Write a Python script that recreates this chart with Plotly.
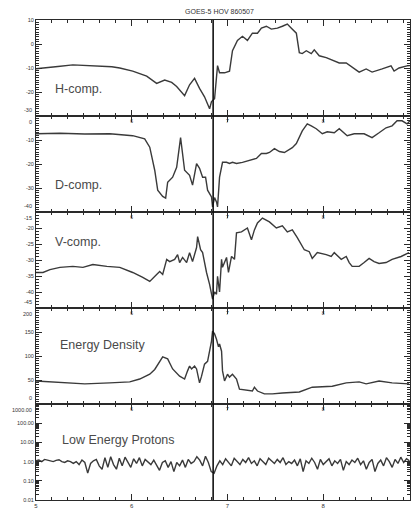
import plotly.graph_objects as go

TITLE = "GOES-5 HOV 860507"
PANEL_LABELS = ["H-comp.", "D-comp.", "V-comp.", "Energy Density", "Low Energy Protons"]
X_RANGE = [5.0, 8.906]
EVENT_T = 6.85

# H-component (nT)
h_t = [5.000, 5.094, 5.229, 5.385, 5.510, 5.667, 5.792, 5.875, 6.010, 6.156, 6.260, 6.344, 6.417, 6.469,
       6.552, 6.604, 6.656, 6.708, 6.760, 6.792, 6.813, 6.833, 6.865, 6.896, 6.917, 6.969, 7.021, 7.052,
       7.104, 7.156, 7.208, 7.260, 7.313, 7.354, 7.406, 7.458, 7.521, 7.573, 7.625, 7.667, 7.719, 7.750,
       7.781, 7.823, 7.875, 7.906, 7.958, 8.031, 8.094, 8.167, 8.240, 8.302, 8.375, 8.448, 8.510, 8.615,
       8.708, 8.740, 8.792, 8.875, 8.906]
h_v = [-10.3, -10.0, -9.4, -8.7, -8.9, -9.0, -9.5, -10.0, -11.3, -13.4, -16.4, -15.0, -16.0, -17.7,
       -21.5, -17.0, -14.3, -18.5, -22.0, -25.0, -27.0, -24.0, -22.8, -9.0, -12.0, -12.0, -11.3, -2.8,
       1.5, 3.2, 1.5, 4.5, 4.5, 6.6, 7.4, 6.2, 6.6, 7.4, 8.3, 6.6, 4.5, -3.6,
       -4.0, -2.8, -4.0, -2.4, -4.9, -5.7, -6.6, -7.9, -7.9, -9.6, -11.7, -10.4, -11.7, -10.4,
       -9.1, -11.3, -10.0, -9.1, -9.0]

# D-component (nT)
d_t = [5.000, 5.250, 5.510, 5.771, 6.010, 6.135, 6.188, 6.240, 6.271, 6.323, 6.354, 6.375, 6.427, 6.469,
       6.510, 6.552, 6.604, 6.635, 6.677, 6.708, 6.740, 6.771, 6.792, 6.833, 6.844, 6.865, 6.885, 6.896,
       6.917, 6.948, 6.990, 7.021, 7.052, 7.094, 7.156, 7.229, 7.302, 7.354, 7.406, 7.438, 7.490, 7.542,
       7.594, 7.677, 7.719, 7.781, 7.833, 7.875, 7.927, 7.990, 8.042, 8.115, 8.167, 8.250, 8.323, 8.427,
       8.510, 8.583, 8.656, 8.719, 8.771, 8.823, 8.875, 8.906]
d_v = [-7.4, -7.2, -7.5, -7.4, -8.2, -9.5, -13.0, -22.6, -30.9, -33.5, -34.2, -27.6, -25.5, -21.4,
       -9.0, -22.6, -24.7, -28.8, -19.8, -21.8, -25.5, -25.5, -30.9, -33.7, -37.9, -34.0, -35.8, -37.9,
       -25.5, -19.3, -19.3, -19.8, -19.3, -19.8, -19.3, -18.5, -17.7, -15.6, -15.6, -15.2, -13.6, -14.8,
       -15.2, -13.2, -11.5, -6.2, -3.3, -4.1, -5.3, -7.4, -6.6, -7.0, -5.3, -8.2, -7.4, -7.4,
       -9.0, -7.0, -4.9, -4.1, -2.0, -2.0, -3.3, -2.0]

# V-component (nT)
v_t = [5.000, 5.073, 5.146, 5.250, 5.385, 5.490, 5.594, 5.740, 5.875, 6.010, 6.115, 6.188, 6.260, 6.292,
       6.323, 6.365, 6.396, 6.448, 6.479, 6.500, 6.531, 6.573, 6.604, 6.635, 6.677, 6.688, 6.719, 6.740,
       6.781, 6.813, 6.844, 6.865, 6.885, 6.896, 6.917, 6.938, 6.948, 6.990, 7.010, 7.042, 7.073, 7.094,
       7.146, 7.208, 7.250, 7.281, 7.313, 7.365, 7.438, 7.510, 7.573, 7.625, 7.677, 7.729, 7.802, 7.854,
       7.885, 7.938, 8.031, 8.083, 8.115, 8.188, 8.240, 8.271, 8.302, 8.375, 8.427, 8.479, 8.531, 8.583,
       8.656, 8.719, 8.813, 8.896]
v_v = [-33.9, -33.9, -33.0, -32.3, -32.0, -32.3, -31.4, -32.0, -32.3, -33.9, -35.4, -36.7, -34.5, -33.6,
       -34.5, -29.8, -30.5, -29.8, -28.3, -30.8, -29.2, -30.8, -27.7, -30.5, -26.1, -22.7, -26.8, -27.7,
       -33.9, -37.6, -42.2, -40.0, -40.7, -35.1, -40.0, -29.8, -32.3, -29.2, -33.9, -28.9, -29.8, -21.5,
       -21.2, -20.0, -23.7, -20.6, -18.4, -16.9, -18.1, -20.0, -19.3, -21.2, -20.6, -23.0, -26.8, -27.4,
       -29.5, -27.7, -28.3, -28.9, -27.7, -29.8, -28.9, -30.8, -32.0, -32.0, -30.8, -29.5, -30.5, -31.1,
       -30.8, -29.8, -28.9, -27.7]

# Energy density
e_t = [5.000, 5.250, 5.510, 5.771, 5.979, 6.083, 6.188, 6.240, 6.292, 6.323, 6.375, 6.427, 6.500, 6.552,
       6.583, 6.604, 6.625, 6.656, 6.677, 6.708, 6.729, 6.760, 6.792, 6.833, 6.844, 6.865, 6.885, 6.906,
       6.917, 6.938, 6.948, 6.969, 7.000, 7.021, 7.052, 7.094, 7.125, 7.198, 7.260, 7.281, 7.313, 7.385,
       7.469, 7.573, 7.750, 7.885, 8.094, 8.240, 8.375, 8.448, 8.583, 8.719, 8.896]
e_v = [48, 45, 42, 44, 46, 52, 62, 72, 89, 98, 94, 73, 58, 52,
       69, 79, 73, 79, 73, 44, 58, 83, 89, 131, 152, 146, 135, 119,
       125, 110, 69, 48, 62, 56, 62, 52, 31, 29, 27, 35, 27, 21,
       21, 23, 25, 35, 37, 44, 46, 42, 48, 44, 42]

# Low energy protons (sampled every 0.03 h from 5.00)
P_STEP = 0.03
p_v = [1.1, 1.2, 1.0, 1.3, 1.2, 1.1, 1.0, 1.15, 1.25, 1.0, 0.9, 1.1, 1.0, 0.8,
       1.0, 0.7, 1.2, 0.9, 0.25, 0.8, 1.1,
       1.3, 0.6, 0.4, 1.6, 0.5, 1.8, 0.7, 0.4, 1.5, 0.6, 1.7, 0.9, 0.5,
       1.4, 0.8, 1.6, 0.6, 1.3, 1.0, 0.7, 1.2, 0.6, 0.35, 0.9, 1.1,
       0.5, 1.0, 0.3, 0.9, 0.6, 1.2, 0.5, 1.3,
       0.8, 1.0, 1.8, 1.2, 0.6, 1.9, 0.9, 0.3,
       0.25, 0.6, 1.1, 0.7, 1.4, 0.9, 0.6, 1.5, 1.0,
       0.7, 1.3, 0.9, 1.6, 0.8, 1.1, 0.6, 1.4, 1.0, 0.7,
       1.5, 1.1, 0.8, 1.3, 0.9, 1.6, 0.7, 1.0, 0.8, 1.2,
       0.6, 1.4, 0.3, 1.1, 0.8, 1.5, 0.9, 0.4, 1.3, 0.7,
       1.0, 1.4, 0.6, 1.1, 0.8, 1.3, 0.35, 1.0, 0.7, 1.2,
       0.9, 1.5, 0.7, 1.1, 0.4, 0.9, 1.3, 0.3, 0.8, 1.2,
       0.6, 1.6, 1.0, 0.5, 1.3, 0.8, 1.7, 0.9, 1.4, 1.1]
p_t = [round(5.0 + P_STEP * i, 3) for i in range(len(p_v))]

# y-axis ticks (first = top of panel, last = bottom of panel)
h_ticks = [10, 0, -10, -20, -30]
d_ticks = [0, -10, -20, -30, -40]
v_ticks = [-15, -20, -25, -30, -35, -40, -45]
e_ticks = [200, 150, 100, 50, 0]
p_ticks = [1000, 100, 10, 1, 0.1, 0.01]
p_ticktext = ["1000.00", "100.00", "10.00", "1.00", "0.10", "0.01"]
x_ticks_bottom = [5, 6, 7, 8]
x_ticks_mid = [6, 7, 8]

LINE = "#3a3a3a"
AX = "#2a2a2a"
FONT = "Liberation Sans"
TICK_FONT = 5.5

fig = go.Figure()
series = [(h_t, h_v), (d_t, d_v), (v_t, v_v), (e_t, e_v), (p_t, p_v)]
for i, (t, v) in enumerate(series):
    k = "" if i == 0 else str(i + 1)
    fig.add_trace(go.Scatter(x=t, y=v, mode="lines", line=dict(color=LINE, width=1.4),
                             xaxis="x" + k, yaxis="y" + k, showlegend=False, hoverinfo="skip"))

domains = [[0.8, 1.0], [0.6, 0.8], [0.4, 0.6], [0.2, 0.4], [0.0, 0.2]]
yranges = [[-30, 10], [-40, 0], [-45, -15], [0, 200], [-2, 3]]
yticks = [h_ticks, d_ticks, v_ticks, e_ticks, p_ticks]
ytexts = [[str(v) for v in h_ticks], [str(v) for v in d_ticks], [str(v) for v in v_ticks],
          [str(v) for v in e_ticks], p_ticktext]
yminor = [1, 1, 1, 5, None]

layout = dict(
    width=418, height=516,
    margin=dict(l=36, r=7, t=20, b=13),
    paper_bgcolor="white", plot_bgcolor="white",
    font=dict(family=FONT, color="#333"),
)
boundary_labels = []  # (text, paper_y, anchor)
for i in range(5):
    k = "" if i == 0 else str(i + 1)
    bottom = i == 4
    xa = dict(
        domain=[0, 1], anchor="y" + k, range=X_RANGE,
        showline=True, linecolor=AX, linewidth=1, mirror="ticks",
        ticks="inside", ticklen=6, tickwidth=1, tickcolor=AX,
        tickmode="array",
        tickvals=x_ticks_bottom if bottom else x_ticks_mid,
        ticktext=[str(v) for v in (x_ticks_bottom if bottom else x_ticks_mid)],
        tickfont=dict(size=6 if bottom else 5, color="#333"),
        showticklabels=True, showgrid=False, zeroline=False,
        minor=dict(tickmode="linear", tick0=5, dtick=1 / 6, ticks="inside", ticklen=3,
                   tickcolor=AX, showgrid=False),
    )
    if i > 0:
        xa["matches"] = "x"
    texts = list(ytexts[i])
    # labels at shared panel boundaries are drawn as annotations, nudged apart
    if i > 0:
        boundary_labels.append((texts[0], domains[i][1], "top"))
        texts[0] = ""
    if i < 4:
        boundary_labels.append((texts[-1], domains[i][0], "bottom"))
        texts[-1] = ""
    ya = dict(
        domain=domains[i], anchor="x" + k, range=yranges[i],
        showline=True, linecolor=AX, linewidth=1, mirror="ticks",
        ticks="inside", ticklen=6, tickwidth=1, tickcolor=AX,
        tickmode="array", tickvals=yticks[i], ticktext=texts,
        tickfont=dict(size=TICK_FONT, color="#333"),
        showgrid=False, zeroline=False,
    )
    if i == 4:
        ya["type"] = "log"
        ya["minor"] = dict(ticks="inside", ticklen=3, tickcolor=AX, dtick="D1", showgrid=False)
    else:
        ya["minor"] = dict(tickmode="linear", dtick=yminor[i], ticks="inside", ticklen=3,
                           tickcolor=AX, showgrid=False)
    layout["xaxis" + k] = xa
    layout["yaxis" + k] = ya

fig.update_layout(**layout)

for text, py, anchor in boundary_labels:
    fig.add_annotation(text=text, xref="paper", yref="paper", x=0, y=py, xanchor="right",
                       yanchor=anchor, xshift=-2, yshift=(-1 if anchor == "top" else 1),
                       showarrow=False, font=dict(size=TICK_FONT, color="#333", family=FONT))

label_pos = [(0.045, 0.857), (0.045, 0.656), (0.045, 0.538), (0.059, 0.323), (0.064, 0.124)]
for text, (px, py) in zip(PANEL_LABELS, label_pos):
    fig.add_annotation(text=text, xref="paper", yref="paper", x=px, y=py, xanchor="left",
                       yanchor="middle", showarrow=False, font=dict(size=12.5, color="#4a4a4a", family=FONT))

fig.add_annotation(text=TITLE, xref="paper", yref="paper", x=0.49, y=1.0, yanchor="bottom",
                   yshift=3, showarrow=False, font=dict(size=7, color="#333", family=FONT))

fig.add_shape(type="line", xref="x", yref="paper", x0=EVENT_T, x1=EVENT_T, y0=0, y1=1.0,
              line=dict(color="#111", width=1.6))

fig.write_html("out.html")
